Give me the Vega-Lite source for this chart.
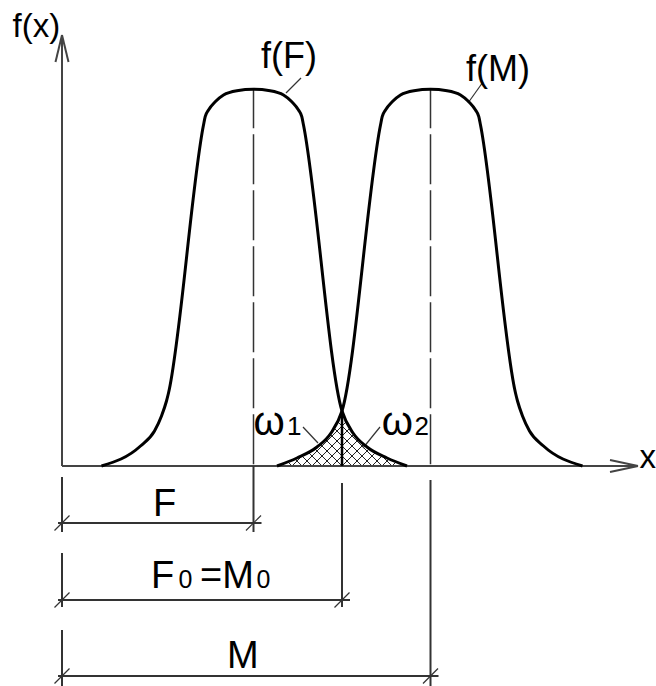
{
  "$schema": "https://vega.github.io/schema/vega-lite/v6.json",
  "width": 656,
  "height": 686,
  "autosize": {"type": "none"},
  "padding": 0,
  "background": "white",
  "config": {"view": {"stroke": null}, "text": {"font": "Liberation Sans", "color": "#000000", "align": "left", "baseline": "alphabetic"}},
  "datasets": {
    "curves": [
      {"curve": "F", "x": 39.5, "y": 0}, {"curve": "F", "x": 78.5, "y": 20}, {"curve": "F", "x": 92.5, "y": 35},
      {"curve": "F", "x": 99.5, "y": 50}, {"curve": "F", "x": 104.5, "y": 65}, {"curve": "F", "x": 106.5, "y": 73},
      {"curve": "F", "x": 141.5, "y": 341}, {"curve": "F", "x": 143.2, "y": 349.3}, {"curve": "F", "x": 146.5, "y": 356},
      {"curve": "F", "x": 153.2, "y": 364.3}, {"curve": "F", "x": 161.5, "y": 371}, {"curve": "F", "x": 174.9, "y": 375.3},
      {"curve": "F", "x": 191.5, "y": 376.7}, {"curve": "F", "x": 208.1, "y": 375.3}, {"curve": "F", "x": 221.5, "y": 371},
      {"curve": "F", "x": 229.8, "y": 364.3}, {"curve": "F", "x": 236.5, "y": 356}, {"curve": "F", "x": 239.8, "y": 349.3},
      {"curve": "F", "x": 241.5, "y": 341}, {"curve": "F", "x": 280, "y": 55}, {"curve": "F", "x": 291, "y": 33},
      {"curve": "F", "x": 305, "y": 19}, {"curve": "F", "x": 325, "y": 8}, {"curve": "F", "x": 345, "y": 0},
      {"curve": "M", "x": 215, "y": 0}, {"curve": "M", "x": 235, "y": 8}, {"curve": "M", "x": 255, "y": 19},
      {"curve": "M", "x": 269, "y": 33}, {"curve": "M", "x": 280, "y": 55}, {"curve": "M", "x": 318.5, "y": 341},
      {"curve": "M", "x": 320.2, "y": 349.3}, {"curve": "M", "x": 323.5, "y": 356}, {"curve": "M", "x": 330.2, "y": 364.3},
      {"curve": "M", "x": 338.5, "y": 371}, {"curve": "M", "x": 351.9, "y": 375.3}, {"curve": "M", "x": 368.5, "y": 376.7},
      {"curve": "M", "x": 385.1, "y": 375.3}, {"curve": "M", "x": 398.5, "y": 371}, {"curve": "M", "x": 406.8, "y": 364.3},
      {"curve": "M", "x": 413.5, "y": 356}, {"curve": "M", "x": 416.8, "y": 349.3}, {"curve": "M", "x": 418.5, "y": 341},
      {"curve": "M", "x": 453.5, "y": 73}, {"curve": "M", "x": 455.5, "y": 65}, {"curve": "M", "x": 460.5, "y": 50},
      {"curve": "M", "x": 467.5, "y": 35}, {"curve": "M", "x": 481.5, "y": 20}, {"curve": "M", "x": 520.5, "y": 0}
    ],
    "overlapTop": [
      {"side": "L", "x": 215, "y": 0}, {"side": "L", "x": 235, "y": 8}, {"side": "L", "x": 255, "y": 19},
      {"side": "L", "x": 269, "y": 33}, {"side": "L", "x": 280, "y": 55},
      {"side": "R", "x": 280, "y": 55}, {"side": "R", "x": 291, "y": 33}, {"side": "R", "x": 305, "y": 19},
      {"side": "R", "x": 325, "y": 8}, {"side": "R", "x": 345, "y": 0}
    ],
    "hatch": [
      {"x": 220, "y": 0, "x2": 275, "y2": 55}, {"x": 230, "y": 0, "x2": 285, "y2": 55},
      {"x": 240, "y": 0, "x2": 295, "y2": 55}, {"x": 250, "y": 0, "x2": 305, "y2": 55},
      {"x": 260, "y": 0, "x2": 315, "y2": 55}, {"x": 270, "y": 0, "x2": 325, "y2": 55},
      {"x": 280, "y": 0, "x2": 335, "y2": 55}, {"x": 290, "y": 0, "x2": 345, "y2": 55},
      {"x": 300, "y": 0, "x2": 345, "y2": 45}, {"x": 310, "y": 0, "x2": 345, "y2": 35},
      {"x": 320, "y": 0, "x2": 345, "y2": 25}, {"x": 330, "y": 0, "x2": 345, "y2": 15},
      {"x": 340, "y": 0, "x2": 345, "y2": 5},
      {"x": 215, "y": 5, "x2": 220, "y2": 0}, {"x": 215, "y": 15, "x2": 230, "y2": 0},
      {"x": 215, "y": 25, "x2": 240, "y2": 0}, {"x": 215, "y": 35, "x2": 250, "y2": 0},
      {"x": 215, "y": 45, "x2": 260, "y2": 0}, {"x": 215, "y": 55, "x2": 270, "y2": 0},
      {"x": 225, "y": 55, "x2": 280, "y2": 0}, {"x": 235, "y": 55, "x2": 290, "y2": 0},
      {"x": 245, "y": 55, "x2": 300, "y2": 0}, {"x": 255, "y": 55, "x2": 310, "y2": 0},
      {"x": 265, "y": 55, "x2": 320, "y2": 0}, {"x": 275, "y": 55, "x2": 330, "y2": 0},
      {"x": 285, "y": 55, "x2": 340, "y2": 0}
    ],
    "segments": [
      {"kind": "axis", "x": 0, "y": 0, "x2": 0, "y2": 431},
      {"kind": "axis", "x": 0, "y": 0, "x2": 576, "y2": 0},
      {"kind": "axis", "x": 0, "y": 431, "x2": -6.5, "y2": 404},
      {"kind": "axis", "x": 0, "y": 431, "x2": 6.5, "y2": 404},
      {"kind": "axis", "x": 576, "y": 0, "x2": 548, "y2": 6},
      {"kind": "axis", "x": 576, "y": 0, "x2": 548, "y2": -6},
      {"kind": "dim", "x": 0, "y": -11, "x2": 0, "y2": -66},
      {"kind": "dim", "x": 191.5, "y": 0, "x2": 191.5, "y2": -66},
      {"kind": "dim", "x": -4, "y": -57, "x2": 199.5, "y2": -57},
      {"kind": "dim", "x": 0, "y": -87, "x2": 0, "y2": -141},
      {"kind": "dim", "x": 280, "y": -17, "x2": 280, "y2": -141},
      {"kind": "dim", "x": -4, "y": -134, "x2": 288, "y2": -134},
      {"kind": "dim", "x": 0, "y": -164, "x2": 0, "y2": -220},
      {"kind": "dim", "x": 368.5, "y": -14, "x2": 368.5, "y2": -220},
      {"kind": "dim", "x": -4, "y": -210, "x2": 376.5, "y2": -210},
      {"kind": "tick", "x": -7.5, "y": -64.5, "x2": 7.5, "y2": -49.5},
      {"kind": "tick", "x": 184, "y": -64.5, "x2": 199, "y2": -49.5},
      {"kind": "tick", "x": -7.5, "y": -141.5, "x2": 7.5, "y2": -126.5},
      {"kind": "tick", "x": 272.5, "y": -141.5, "x2": 287.5, "y2": -126.5},
      {"kind": "tick", "x": -7.5, "y": -217.5, "x2": 7.5, "y2": -202.5},
      {"kind": "tick", "x": 361, "y": -217.5, "x2": 376, "y2": -202.5},
      {"kind": "leader", "x": 224, "y": 373, "x2": 239, "y2": 388},
      {"kind": "leader", "x": 406, "y": 363, "x2": 421, "y2": 384},
      {"kind": "leader", "x": 241, "y": 39, "x2": 256, "y2": 23},
      {"kind": "leader", "x": 318, "y": 39, "x2": 301, "y2": 18},
      {"kind": "divider", "x": 280, "y": 0, "x2": 280, "y2": 55},
      {"kind": "center", "x": 191.5, "y": 376.7, "x2": 191.5, "y2": 0},
      {"kind": "center", "x": 368.5, "y": 376.7, "x2": 368.5, "y2": 0}
    ],
    "labels": [
      {"text": "f(x)", "role": "axis", "x": -49.5, "y": 429.3},
      {"text": "x", "role": "axis", "x": 577.5, "y": -2},
      {"text": "f(F)", "role": "curve", "x": 199, "y": 397.7},
      {"text": "f(M)", "role": "curve", "x": 404, "y": 385},
      {"text": "F", "role": "dim", "x": 91, "y": -50},
      {"text": "F", "role": "dim", "x": 89, "y": -122.3},
      {"text": "0", "role": "sub", "x": 116.5, "y": -122.3},
      {"text": "=M", "role": "dim", "x": 138, "y": -122.3},
      {"text": "0", "role": "sub", "x": 194.5, "y": -122.3},
      {"text": "M", "role": "dim", "x": 165, "y": -202},
      {"text": "ω", "role": "omega", "x": 191.4, "y": 31},
      {"text": "1", "role": "subw", "x": 225, "y": 31},
      {"text": "ω", "role": "omega", "x": 319.7, "y": 31},
      {"text": "2", "role": "subw", "x": 352.5, "y": 31}
    ]
  },
  "encoding": {
    "x": {"field": "x", "type": "quantitative", "axis": null,
          "scale": {"domain": [-62, 594], "nice": false, "zero": false}},
    "y": {"field": "y", "type": "quantitative", "axis": null,
          "scale": {"domain": [-220, 466], "nice": false, "zero": false}}
  },
  "layer": [
    {
      "data": {"name": "hatch"},
      "mark": {"type": "rule", "stroke": "#222222", "strokeWidth": 1},
      "encoding": {"x2": {"field": "x2"}, "y2": {"field": "y2"}}
    },
    {
      "data": {"name": "overlapTop"},
      "mark": {"type": "area", "fill": "white", "interpolate": "monotone", "orient": "vertical"},
      "encoding": {"y2": {"datum": 57}, "detail": {"field": "side"}}
    },
    {
      "data": {"name": "segments"},
      "transform": [{"filter": "datum.kind === 'axis'"}],
      "mark": {"type": "rule", "stroke": "#444444", "strokeWidth": 2},
      "encoding": {"x2": {"field": "x2"}, "y2": {"field": "y2"}}
    },
    {
      "data": {"name": "segments"},
      "transform": [{"filter": "datum.kind === 'dim'"}],
      "mark": {"type": "rule", "stroke": "#333333", "strokeWidth": 2},
      "encoding": {"x2": {"field": "x2"}, "y2": {"field": "y2"}}
    },
    {
      "data": {"name": "segments"},
      "transform": [{"filter": "datum.kind === 'tick' || datum.kind === 'leader'"}],
      "mark": {"type": "rule", "stroke": "#333333", "strokeWidth": 1.2},
      "encoding": {"x2": {"field": "x2"}, "y2": {"field": "y2"}}
    },
    {
      "data": {"name": "segments"},
      "transform": [{"filter": "datum.kind === 'center'"}],
      "mark": {"type": "rule", "stroke": "#333333", "strokeWidth": 1.5, "strokeDash": [50, 6], "strokeDashOffset": 11},
      "encoding": {"x2": {"field": "x2"}, "y2": {"field": "y2"}}
    },
    {
      "data": {"name": "segments"},
      "transform": [{"filter": "datum.kind === 'divider'"}],
      "mark": {"type": "rule", "stroke": "#000000", "strokeWidth": 2.5},
      "encoding": {"x2": {"field": "x2"}, "y2": {"field": "y2"}}
    },
    {
      "data": {"name": "curves"},
      "mark": {"type": "line", "stroke": "#000000", "strokeWidth": 3, "interpolate": "monotone", "strokeJoin": "round"},
      "encoding": {"detail": {"field": "curve"}}
    },
    {
      "data": {"name": "labels"},
      "transform": [{"filter": "datum.role === 'axis'"}],
      "mark": {"type": "text", "fontSize": 33},
      "encoding": {"text": {"field": "text"}}
    },
    {
      "data": {"name": "labels"},
      "transform": [{"filter": "datum.role === 'curve'"}],
      "mark": {"type": "text", "fontSize": 36},
      "encoding": {"text": {"field": "text"}}
    },
    {
      "data": {"name": "labels"},
      "transform": [{"filter": "datum.role === 'dim'"}],
      "mark": {"type": "text", "fontSize": 38},
      "encoding": {"text": {"field": "text"}}
    },
    {
      "data": {"name": "labels"},
      "transform": [{"filter": "datum.role === 'sub'"}],
      "mark": {"type": "text", "fontSize": 25},
      "encoding": {"text": {"field": "text"}}
    },
    {
      "data": {"name": "labels"},
      "transform": [{"filter": "datum.role === 'omega'"}],
      "mark": {"type": "text", "fontSize": 40},
      "encoding": {"text": {"field": "text"}}
    },
    {
      "data": {"name": "labels"},
      "transform": [{"filter": "datum.role === 'subw'"}],
      "mark": {"type": "text", "fontSize": 26},
      "encoding": {"text": {"field": "text"}}
    }
  ]
}
